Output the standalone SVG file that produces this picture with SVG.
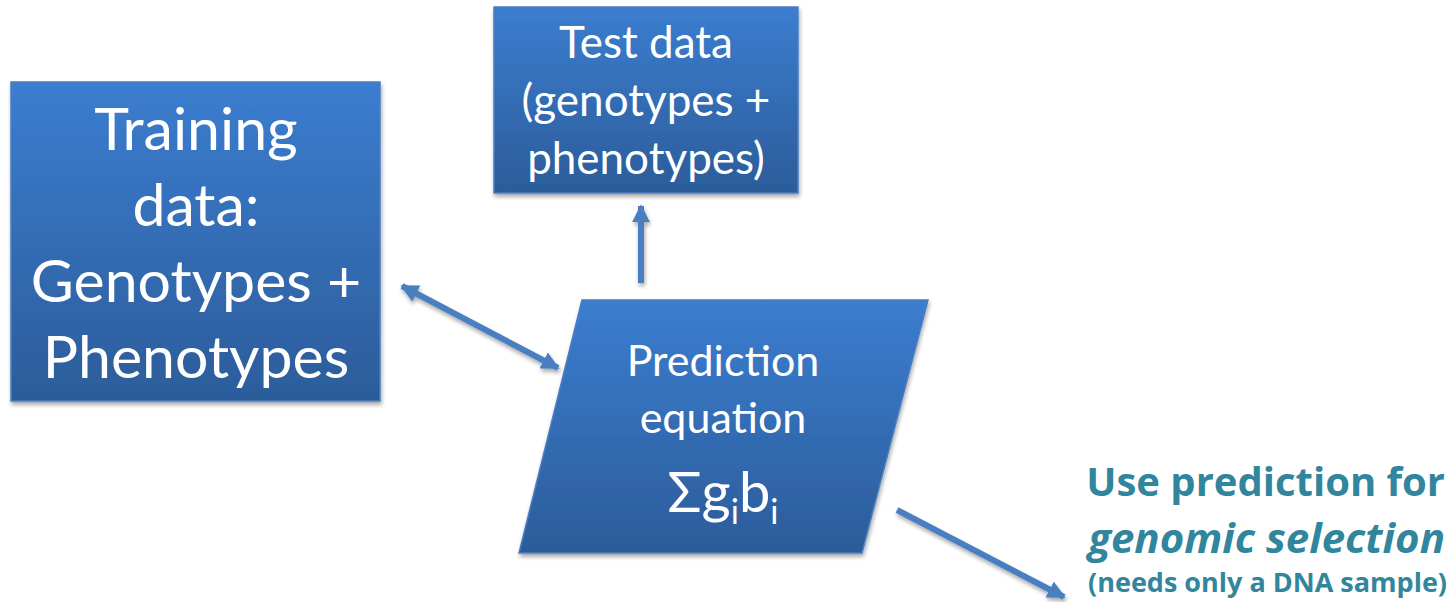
<svg xmlns="http://www.w3.org/2000/svg" width="1452" height="602" viewBox="0 0 1452 602">
  <defs>
    <linearGradient id="boxFill" x1="0" y1="0" x2="0" y2="1">
      <stop offset="0" stop-color="#3B7DCF"/>
      <stop offset="1" stop-color="#2C5C9A"/>
    </linearGradient>
    <filter id="shadow" filterUnits="userSpaceOnUse" x="0" y="0" width="1452" height="602">
      <feGaussianBlur in="SourceAlpha" stdDeviation="2"/>
      <feOffset dx="1" dy="3" result="b"/>
      <feComponentTransfer><feFuncA type="linear" slope="0.35"/></feComponentTransfer>
      <feMerge><feMergeNode/><feMergeNode in="SourceGraphic"/></feMerge>
    </filter>
    <marker id="head" viewBox="0 0 10 10" refX="9" refY="5" markerWidth="3" markerHeight="3" orient="auto-start-reverse" markerUnits="strokeWidth">
      <path d="M0,0 L10,5 L0,10 Z" fill="#4A7EC0"/>
    </marker>
  </defs>
  <style>
    .box { fill: url(#boxFill); stroke: #4A7EC0; stroke-width: 1.5; filter: url(#shadow); }
    .lbl { font-family: Lato, "Open Sans", sans-serif; fill: #FFFFFF; text-anchor: middle; }
    .conn { stroke: #4A7EC0; stroke-width: 6; fill: none; marker-end: url(#head); }
    .note { font-family: "Open Sans", Lato, sans-serif; fill: #31859C; font-weight: bold; text-anchor: end; }
  </style>

  <rect width="1452" height="602" fill="#FFFFFF"/>

  <g id="training">
    <rect class="box" x="11" y="82" width="369" height="319"/>
    <text class="lbl" font-size="59" x="196" y="150">Training</text>
    <text class="lbl" font-size="59" x="196" y="226">data:</text>
    <text class="lbl" font-size="59" x="196" y="302">Genotypes +</text>
    <text class="lbl" font-size="59" x="196" y="378">Phenotypes</text>
  </g>

  <g id="test">
    <rect class="box" x="494" y="7" width="304" height="186"/>
    <text class="lbl" font-size="44" x="646" y="58">Test data</text>
    <text class="lbl" font-size="44" x="646" y="116">(genotypes +</text>
    <text class="lbl" font-size="44" x="646" y="174">phenotypes)</text>
  </g>

  <g id="prediction">
    <polygon class="box" points="582,300 928,300 862,553 519,553"/>
    <text class="lbl" font-size="43" x="723" y="376">Prediction</text>
    <text class="lbl" font-size="43" x="723" y="433">equation</text>
    <text class="lbl" font-size="56" x="723" y="512">Σg<tspan font-size="34" dy="12">i</tspan><tspan dy="-12">b</tspan><tspan font-size="34" dy="12">i</tspan></text>
  </g>

  <g id="use">
    <text class="note" font-size="40" x="1445" y="496">Use prediction for</text>
    <text class="note" font-size="42" font-style="italic" x="1445" y="553">genomic selection</text>
    <text class="note" font-size="27" x="1447" y="592">(needs only a DNA sample)</text>
  </g>

  <g id="connectors" filter="url(#shadow)">
    <line class="conn" x1="641" y1="283" x2="641" y2="206"/>
    <line class="conn" x1="402" y1="286" x2="558" y2="368" marker-start="url(#head)"/>
    <line class="conn" x1="897" y1="510" x2="1064" y2="597"/>
  </g>
</svg>
